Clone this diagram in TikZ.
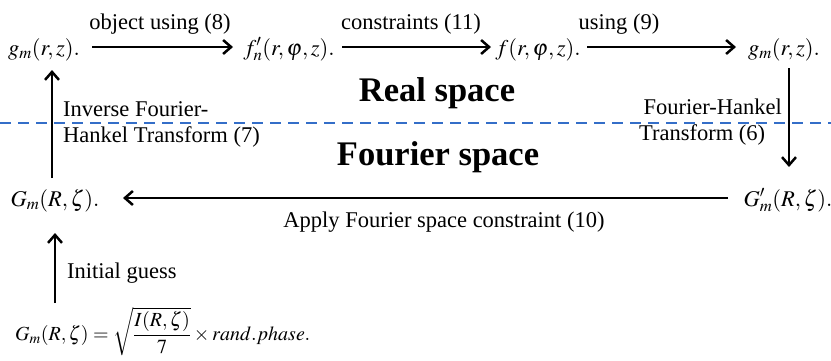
\documentclass[tikz,border=0pt]{standalone}
\usepackage{amsmath}
\usepackage{mathptmx}
\usepackage{fontspec}
\setmainfont{Liberation Serif}
\usetikzlibrary{arrows.meta}
\begin{document}
\begin{tikzpicture}[x=1pt,y=-1pt,
  lbl/.style={font=\fontsize{22.5}{26}\selectfont, inner sep=0pt, anchor=base},
  mth/.style={font=\fontsize{22.5}{26}\selectfont, inner sep=0pt, anchor=base},
  big/.style={font=\fontsize{34.5}{38}\selectfont\bfseries, inner sep=0pt, anchor=base},
  arr/.style={line width=2.5pt, -{Straight Barb[length=8pt,width=14pt,line width=2.5pt]}}]
\useasboundingbox (0,0) rectangle (831,360);
% dashed divider
\draw[color={rgb,255:red,52;green,110;blue,200}, line width=2.2pt, dash pattern=on 11pt off 7pt] (0,123) -- (831,123);
% nodes
\node[mth] (g1) at (44,55) {$g_m(r,z).$};
\node[mth] (fn) at (289,55) {$f_n'(r,\varphi,z).$};
\node[mth] (f) at (538,55) {$f(r,\varphi,z).$};
\node[mth] (g2) at (784,55) {$g_m(r,z).$};
\node[mth] (G1) at (55,206) {$G_m(R,\zeta).$};
\node[mth] (G2) at (788,206) {$G_m'(R,\zeta).$};
\node[mth, anchor=base west, font=\fontsize{20}{24}\selectfont] (G0) at (15,340) {$G_m(R,\zeta)=\sqrt{\dfrac{I(R,\zeta)}{7}}\times rand.phase.$};
% coordinates
\coordinate (a1s) at (92,47); \coordinate (a1e) at (233,47);
\coordinate (a2s) at (342,47); \coordinate (a2e) at (491,47);
\coordinate (a3s) at (587,47); \coordinate (a3e) at (736,47);
\coordinate (rds) at (789,68); \coordinate (rde) at (789,167);
\coordinate (bls) at (728,198); \coordinate (ble) at (123,198);
\coordinate (lus) at (52,178); \coordinate (lue) at (52,70);
\coordinate (ius) at (55,303); \coordinate (iue) at (55,233);
% arrows
\draw[arr] (a1s) -- (a1e);
\draw[arr] (a2s) -- (a2e);
\draw[arr] (a3s) -- (a3e);
\draw[arr] (rds) -- (rde);
\draw[arr] (bls) -- (ble);
\draw[arr] (lus) -- (lue);
\draw[arr] (ius) -- (iue);
% labels
\node[lbl] (l1) at (160,29) {object using (8)};
\node[lbl] (l2) at (411,29) {constraints (11)};
\node[lbl] (l3) at (619,29) {using (9)};
\node[lbl, anchor=base west] (l4a) at (63,116) {Inverse Fourier-};
\node[lbl, anchor=base west] (l4b) at (63,142) {Hankel Transform (7)};
\node[lbl, anchor=base east] (l5a) at (782,114) {Fourier-Hankel};
\node[lbl, anchor=base west] (l5b) at (639,140) {Transform (6)};
\node[lbl] (l6) at (444,227) {Apply Fourier space constraint (10)};
\node[lbl, anchor=base west] (l7) at (67,278) {Initial guess};
\node[big] (rs) at (437,101) {Real space};
\node[big] (fs) at (438,165) {Fourier space};
\end{tikzpicture}
\end{document}
